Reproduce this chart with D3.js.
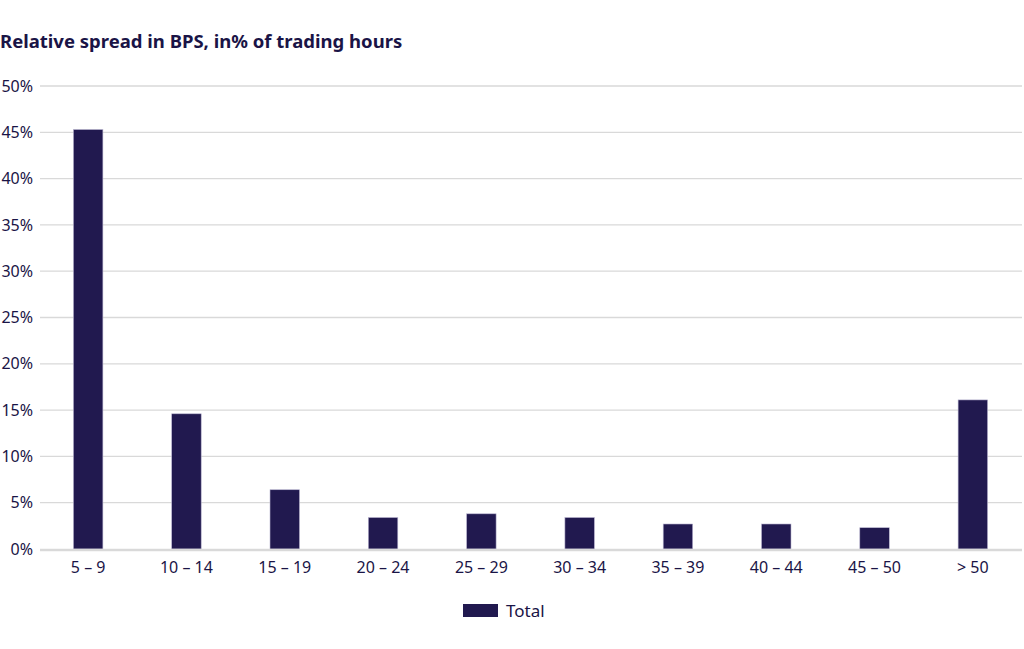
<!DOCTYPE html>
<html><head><meta charset="utf-8">
<script src="https://cdn.jsdelivr.net/npm/d3@7"></script>
<style>body{margin:0;background:#fff}svg{display:block;font-family:"Noto Sans",sans-serif}</style>
</head><body>
<script>
const categories = ["5 – 9","10 – 14","15 – 19","20 – 24","25 – 29","30 – 34","35 – 39","40 – 44","45 – 50","> 50"];
const values = [45.3, 14.6, 6.4, 3.4, 3.8, 3.4, 2.7, 2.7, 2.3, 16.1];
const yTicks = [0,5,10,15,20,25,30,35,40,45,50];
const seriesName = "Total";
const title = "Relative spread in BPS, in% of trading hours";

const W = 1024, H = 649;
const svg = d3.select("body").append("svg").attr("width", W).attr("height", H);
const textColor = "#1a1446", barColor = "#21194f";

const x = d3.scaleBand().domain(categories).range([39, 1022]).paddingInner(0.7).paddingOuter(0.35);
const y = d3.scaleLinear().domain([0, 50]).range([549, 86]);

svg.append("text").attr("x", 0).attr("y", 48).attr("fill", textColor)
  .attr("font-size", 18.5).attr("font-weight", "bold").text(title);

// gridlines
svg.append("g").selectAll("line").data(yTicks.filter(d => d > 0)).join("line")
  .attr("x1", 40).attr("x2", 1022).attr("y1", d => y(d)).attr("y2", d => y(d))
  .attr("stroke", "#d9d9d9").attr("stroke-width", 1.3);

// y labels
svg.append("g").selectAll("text").data(yTicks).join("text")
  .attr("x", 33).attr("y", d => y(d)).attr("dy", "0.35em").attr("text-anchor", "end")
  .attr("fill", textColor).attr("font-size", 16).text(d => d + "%");

// bars
svg.append("g").selectAll("rect").data(values).join("rect")
  .attr("x", (d, i) => x(categories[i])).attr("width", x.bandwidth())
  .attr("y", d => y(d)).attr("height", d => y(0) - y(d))
  .attr("fill", barColor).attr("stroke", "#b9b5d0").attr("stroke-width", 0.6);

// baseline
svg.append("line").attr("x1", 40).attr("x2", 1022).attr("y1", y(0) + 1).attr("y2", y(0) + 1)
  .attr("stroke", "#d9d9d9").attr("stroke-width", 2.5);

// x labels
svg.append("g").selectAll("text").data(categories).join("text")
  .attr("x", d => x(d) + x.bandwidth() / 2).attr("y", 573).attr("text-anchor", "middle")
  .attr("fill", textColor).attr("font-size", 16).text(d => d);

// legend
const lg = svg.append("g");
lg.append("rect").attr("x", 463).attr("y", 604).attr("width", 35).attr("height", 13).attr("fill", barColor);
lg.append("text").attr("x", 506).attr("y", 611).attr("dy", "0.35em").attr("fill", textColor)
  .attr("font-size", 17).text(seriesName);
</script>
</body></html>
